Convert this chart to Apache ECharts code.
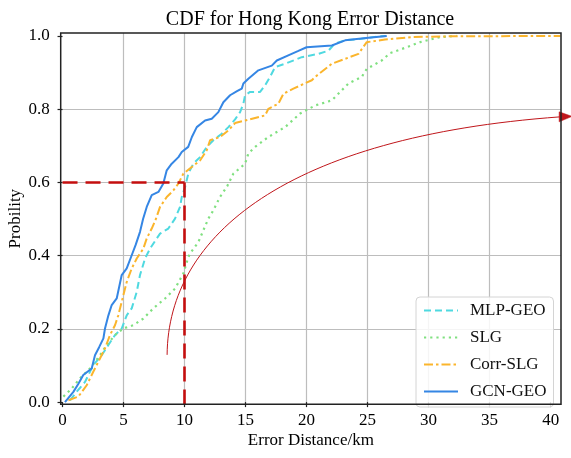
<!DOCTYPE html>
<html><head><meta charset="utf-8">
<script src="https://cdn.jsdelivr.net/npm/echarts@6/dist/echarts.min.js"></script>
<style>html,body{margin:0;padding:0;background:#fff}#c{width:571px;height:458px}</style>
</head><body><div id="c"></div>
<script>
const seriesNames = ['MLP-GEO', 'SLG', 'Corr-SLG', 'GCN-GEO'];

const mlpGeo = [[0.61,0.005],[1.2,0.03],[1.84,0.055],[2.52,0.101],[3.21,0.128],[3.76,0.156],[4.3,0.183],[4.85,0.201],[5.26,0.237],[5.67,0.256],[6.08,0.301],[6.35,0.347],[6.76,0.392],[7.17,0.419],[7.72,0.447],[7.99,0.46],[8.67,0.474],[9.22,0.501],[9.63,0.533],[9.77,0.56],[10.04,0.587],[10.31,0.624],[10.72,0.651],[11.27,0.669],[11.82,0.697],[12.36,0.715],[13.05,0.733],[13.59,0.751],[14.14,0.772],[14.55,0.792],[14.82,0.815],[14.96,0.838],[15.37,0.847],[16.19,0.847],[16.6,0.865],[17.0,0.888],[17.42,0.915],[18.24,0.924],[19.6,0.942],[20.97,0.951],[21.8,0.96],[22.3,0.979],[23.16,0.988],[24.5,0.992],[25.9,0.999],[26.5,1.0]];

const slg = [[0.07,0.015],[0.75,0.037],[1.43,0.065],[2.25,0.092],[3.07,0.128],[3.62,0.156],[4.3,0.183],[4.98,0.201],[5.8,0.21],[6.62,0.228],[7.44,0.256],[8.4,0.283],[9.22,0.31],[9.9,0.351],[10.31,0.396],[10.45,0.406],[11.13,0.437],[11.54,0.469],[11.95,0.501],[12.36,0.524],[12.9,0.56],[13.5,0.59],[14.0,0.624],[14.96,0.651],[15.23,0.679],[15.78,0.697],[16.87,0.724],[18.24,0.751],[19.47,0.788],[20.7,0.81],[22.07,0.824],[22.6,0.842],[23.43,0.87],[24.52,0.888],[24.93,0.91],[26.16,0.933],[26.84,0.953],[28.2,0.969],[29.3,0.983],[30.94,0.997],[32.3,1.0]];

const corrSlg = [[0.48,0.005],[1.3,0.015],[1.98,0.046],[2.52,0.083],[3.07,0.119],[3.48,0.147],[3.89,0.183],[4.3,0.21],[4.57,0.237],[4.85,0.274],[5.26,0.328],[5.67,0.365],[6.08,0.392],[6.62,0.419],[6.9,0.447],[7.31,0.474],[7.65,0.5],[7.99,0.533],[8.54,0.56],[9.08,0.578],[9.5,0.597],[9.9,0.624],[10.59,0.642],[11.27,0.66],[11.82,0.688],[12.09,0.715],[12.91,0.724],[13.59,0.742],[14.14,0.762],[14.96,0.769],[16.6,0.783],[16.87,0.801],[17.69,0.815],[18.1,0.842],[18.92,0.856],[20.43,0.879],[20.7,0.888],[22.07,0.924],[24.25,0.951],[24.93,0.983],[26.43,0.99],[28.7,0.997],[32.0,0.999],[40.8,1.0]];

const gcnGeo = [[0.2,0.0],[0.89,0.028],[1.3,0.05],[1.7,0.074],[2.39,0.092],[2.66,0.128],[3.0,0.15],[3.35,0.174],[3.48,0.201],[3.76,0.237],[4.03,0.265],[4.44,0.283],[4.85,0.347],[5.26,0.365],[5.67,0.401],[6.0,0.43],[6.35,0.465],[6.6,0.5],[6.9,0.533],[7.31,0.565],[7.86,0.574],[8.26,0.597],[8.54,0.633],[8.95,0.651],[9.5,0.669],[9.77,0.683],[10.3,0.697],[10.6,0.724],[11.0,0.751],[11.68,0.769],[12.23,0.774],[12.77,0.792],[13.18,0.819],[13.73,0.838],[14.3,0.849],[14.69,0.856],[14.82,0.87],[15.23,0.883],[16.05,0.906],[17.15,0.919],[17.56,0.933],[18.5,0.947],[19.33,0.959],[20.0,0.969],[22.07,0.974],[23.16,0.988],[25.07,0.995],[26.57,1.0]];

const xTicks = [0, 5, 10, 15, 20, 25, 30, 35, 40];
const yTicks = [0.0, 0.2, 0.4, 0.6, 0.8, 1.0];

// annotation (data coordinates)
const cutoffKm = 10;
const cutoffProb = 0.6;
const arrowPath = [[8.57, 0.129], [8.65, 0.456], [18.4, 0.725], [40.78, 0.779]];

const FONT = 'Liberation Serif';
const chart = echarts.init(document.getElementById('c'), null, {renderer: 'canvas'});

const GRID = {left: 60.7, top: 33, right: 10, bottom: 53.7};
const W = 571, H = 458;

chart.setOption({
  animation: false,
  backgroundColor: '#fff',
  title: {
    text: 'CDF for Hong Kong Error Distance',
    left: 305, top: 5, textAlign: 'center',
    textStyle: {fontFamily: FONT, fontSize: 20, fontWeight: 'normal', color: '#000'}
  },
  grid: {left: GRID.left, top: GRID.top, right: GRID.right, bottom: GRID.bottom,
    containLabel: false, outerBoundsMode: 'none'},
  legend: {
    data: seriesNames,
    orient: 'vertical', left: 416, top: 297,
    itemWidth: 34, itemHeight: 14, itemGap: 10,
    padding: [5, 7, 7, 7],
    backgroundColor: 'rgba(255,255,255,0.85)',
    borderColor: '#d4d4d4', borderWidth: 1, borderRadius: 4,
    itemStyle: {opacity: 0},
    textStyle: {fontFamily: FONT, fontSize: 17, color: '#111', padding: [0, 0, 0, 7]}
  },
  xAxis: {
    type: 'value', min: -0.15, max: 40.85, splitNumber: 8,
    name: 'Error Distance/km', nameLocation: 'middle', nameGap: 28, nameMoveOverlap: false,
    nameTextStyle: {fontFamily: FONT, fontSize: 17, color: '#000'},
    axisLine: {show: false},
    axisTick: {show: true, inside: false, length: 5, customValues: xTicks, lineStyle: {color: '#222', width: 1.2}},
    axisLabel: {customValues: xTicks, margin: 8, fontFamily: FONT, fontSize: 17, color: '#000',
      formatter: v => String(Math.round(v))},
    splitLine: {show: true, showMinLine: false, showMaxLine: false, lineStyle: {color: '#bdbdbd', width: 1.2}}
  },
  yAxis: {
    type: 'value', min: -0.006, max: 1.008, splitNumber: 5,
    name: 'Probility', nameLocation: 'middle', nameGap: 37, nameRotate: 90, nameMoveOverlap: false,
    nameTextStyle: {fontFamily: FONT, fontSize: 17, color: '#000'},
    axisLine: {show: false},
    axisTick: {show: true, inside: false, length: 5, customValues: yTicks, lineStyle: {color: '#222', width: 1.2}},
    axisLabel: {customValues: yTicks, margin: 11, fontFamily: FONT, fontSize: 17, color: '#000',
      formatter: v => v.toFixed(1)},
    splitLine: {show: true, showMinLine: false, showMaxLine: false, lineStyle: {color: '#bdbdbd', width: 1.2}}
  },
  series: [
    {name: 'MLP-GEO', type: 'line', data: mlpGeo, symbol: 'none', clip: false,
      lineStyle: {color: '#4fd9e0', width: 2, type: [7, 4]}, itemStyle: {color: '#4fd9e0'}},
    {name: 'SLG', type: 'line', data: slg, symbol: 'none', clip: false,
      lineStyle: {color: '#80e080', width: 2.2, type: [2.2, 4]}, itemStyle: {color: '#80e080'}},
    {name: 'Corr-SLG', type: 'line', data: corrSlg, symbol: 'none', clip: false,
      lineStyle: {color: '#fbb52c', width: 2, type: [9, 3, 2.5, 3]}, itemStyle: {color: '#fbb52c'}},
    {name: 'GCN-GEO', type: 'line', data: gcnGeo, symbol: 'none', clip: false,
      lineStyle: {color: '#3586e4', width: 2}, itemStyle: {color: '#3586e4'},
      markLine: {
        silent: true, symbol: ['none', 'none'], animation: false,
        label: {show: false},
        lineStyle: {color: '#c40e0e', width: 2.6, type: [15, 8]},
        data: [
          [{coord: [0, cutoffProb]}, {coord: [cutoffKm, cutoffProb]}],
          [{coord: [cutoffKm, cutoffProb]}, {coord: [cutoffKm, -0.006]}]
        ]
      }}
  ]
});

// annotation arrow + frame
const p = arrowPath.map(d => chart.convertToPixel({gridIndex: 0}, d));
const gx = GRID.left, gy = GRID.top, gw = W - GRID.left - GRID.right, gh = H - GRID.top - GRID.bottom;
chart.setOption({
  graphic: [
    {type: 'rect', z: 100, silent: true,
      shape: {x: gx, y: gy, width: gw, height: gh},
      style: {fill: 'none', stroke: '#222', lineWidth: 1.5}},
    {type: 'bezierCurve', z: 90, silent: true,
      shape: {x1: p[0][0], y1: p[0][1], cpx1: p[1][0], cpy1: p[1][1], cpx2: p[2][0], cpy2: p[2][1], x2: p[3][0], y2: p[3][1]},
      style: {fill: 'none', stroke: '#c0161b', lineWidth: 1}},
    {type: 'polygon', z: 91, silent: true,
      shape: {points: [[p[3][0] - 1, p[3][1] - 5], [p[3][0] + 12, p[3][1] - 0.5], [p[3][0] - 1, p[3][1] + 5]]},
      style: {fill: '#c0161b', stroke: '#c0161b', lineWidth: 0.5}}
  ]
});
</script>
</body></html>
